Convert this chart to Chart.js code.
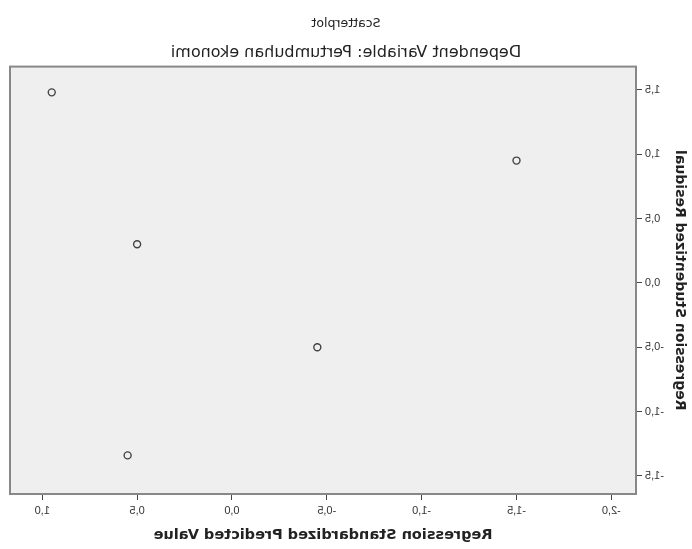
<!DOCTYPE html>
<html>
<head>
<meta charset="utf-8">
<script src="https://cdn.jsdelivr.net/npm/chart.js@4/dist/chart.umd.min.js"></script>
<style>
  html, body { margin: 0; padding: 0; background: #fff; }
  /* the reference picture is a mirror image of the SPSS plot */
  #chart { display: block; transform: scaleX(-1); }
</style>
</head>
<body>
<canvas id="chart" width="692" height="549"></canvas>
<script>
// values
var predicted = [0.95, -1.50, 0.50, -0.45, 0.55];
var residual = [1.48, 0.95, 0.30, -0.50, -1.34];
var xTicks = [-2.0, -1.5, -1.0, -0.5, 0.0, 0.5, 1.0];
var yTicks = [-1.5, -1.0, -0.5, 0.0, 0.5, 1.0, 1.5];

var points = [];
for (var i = 0; i < predicted.length; i++) {
  points.push({ x: predicted[i], y: residual[i] });
}

function comma(v) {
  return v.toFixed(1).replace('.', ',');
}

// grey plot background and box outline
var boxPlugin = {
  id: 'box',
  beforeDraw: function(chart) {
    var a = chart.chartArea, ctx = chart.ctx;
    ctx.save();
    ctx.fillStyle = '#efefef';
    ctx.fillRect(a.left, a.top, a.right - a.left, a.bottom - a.top);
    ctx.restore();
  },
  afterDraw: function(chart) {
    var a = chart.chartArea, ctx = chart.ctx;
    ctx.save();
    ctx.strokeStyle = '#888';
    ctx.lineWidth = 2;
    ctx.strokeRect(a.left, a.top, a.right - a.left, a.bottom - a.top);
    ctx.restore();
  }
};

Chart.defaults.font.family = '"Liberation Sans", Arial, sans-serif';
Chart.defaults.color = '#222';

var wide = '"DejaVu Sans", "Liberation Sans", sans-serif';

new Chart(document.getElementById('chart'), {
  type: 'scatter',
  data: {
    datasets: [{
      data: points,
      pointStyle: 'circle',
      pointRadius: 3.5,
      pointBorderWidth: 1.4,
      borderColor: '#444',
      backgroundColor: 'rgba(0,0,0,0)'
    }]
  },
  options: {
    responsive: false,
    animation: false,
    layout: { padding: { left: 10, right: 10, top: 0, bottom: 0 } },
    plugins: {
      legend: { display: false },
      tooltip: { enabled: false },
      title: {
        display: true,
        text: 'Scatterplot',
        font: { family: wide, size: 12.5, weight: 'normal' },
        padding: { top: 16, bottom: 12 }
      },
      subtitle: {
        display: true,
        text: 'Dependent Variable: Pertumbuhan ekonomi',
        color: '#222',
        font: { family: wide, size: 16, weight: 'normal' },
        padding: { top: 0, bottom: 4.4 }
      }
    },
    scales: {
      x: {
        type: 'linear',
        min: -2.13,
        max: 1.17,
        afterBuildTicks: function(scale) {
          scale.ticks = xTicks.map(function(v) { return { value: v }; });
        },
        afterFit: function(scale) { scale.height = 55; },
        grid: { drawOnChartArea: false, tickLength: 6, color: '#444' },
        border: { display: false },
        ticks: {
          padding: 4,
          font: { size: 11 },
          color: '#333',
          callback: function(v) { return comma(v); }
        },
        title: {
          display: true,
          text: 'Regression Standardized Predicted Value',
          font: { family: wide, size: 14.5, weight: 'bold' },
          padding: { top: 0, bottom: 5 }
        }
      },
      y: {
        type: 'linear',
        min: -1.64,
        max: 1.68,
        afterBuildTicks: function(scale) {
          scale.ticks = yTicks.map(function(v) { return { value: v }; });
        },
        afterFit: function(scale) { scale.width = 46; },
        grid: { drawOnChartArea: false, tickLength: 6, color: '#444' },
        border: { display: false },
        ticks: {
          padding: 3,
          font: { size: 11 },
          color: '#333',
          callback: function(v) { return comma(v); }
        },
        title: {
          display: true,
          text: 'Regression Studentized Residual',
          font: { family: wide, size: 14, weight: 'bold' },
          padding: { top: -6, bottom: 0 }
        }
      }
    }
  },
  plugins: [boxPlugin]
});
</script>
</body>
</html>
